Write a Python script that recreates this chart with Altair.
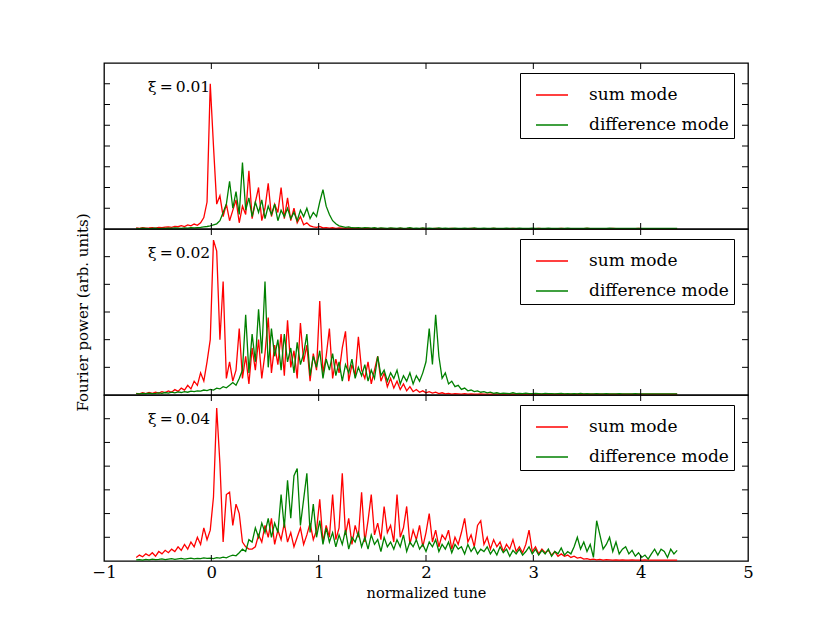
import altair as alt
import pandas as pd

# ---------------- data ----------------
TUNE_START = -0.70   # first sampled normalized tune
TUNE_STEP = 0.03     # sampling step of the spectra

MODES = ["sum mode", "difference mode"]
COLORS = ["#ff0000", "#008000"]
XI_LABELS = ["ξ\u2009=\u20090.01", "ξ\u2009=\u20090.02", "ξ\u2009=\u20090.04"]
Y_MAX = [80, 60, 70]
Y_TICKS = [[10, 20, 30, 40, 50, 60, 70], [10, 20, 30, 40, 50], [10, 20, 30, 40, 50, 60]]
X_TICKS = [0, 1, 2, 3, 4]
X_LABEL_VALUES = [-1, 0, 1, 2, 3, 4, 5]

P1_SUM = [0.5, 0.3, 0.6, 0.4, 0.5, 0.7, 0.4, 0.8, 0.6, 0.9,
          1.0, 0.8, 1.3, 1.1, 1.6, 1.2, 2.0, 1.5, 2.4, 1.8,
          3.0, 5.5, 13, 70, 40, 12, 16, 6, 12, 4,
          9, 14, 3, 11, 7, 28, 5, 13, 20, 4,
          10, 22, 6, 12, 8, 20, 5, 15, 4, 10,
          3, 6, 2, 3, 1.5, 1.0, 0.8, 1.2, 0.5, 0.7,
          0.4, 0.6, 0.3, 0.5, 0.4, 0.3, 0.5, 0.2, 0.4, 0.3,
          0.3, 0.2, 0.4, 0.2, 0.3, 0.2, 0.3, 0.2, 0.2, 0.3,
          0.2, 0.2, 0.3, 0.2, 0.2, 0.3, 0.2, 0.2, 0.2, 0.3,
          0.2, 0.2, 0.2, 0.3, 0.2, 0.2, 0.2, 0.2, 0.3, 0.2,
          0.2, 0.2, 0.2, 0.2, 0.3, 0.2, 0.2, 0.2, 0.2, 0.2,
          0.2, 0.3, 0.2, 0.2, 0.2, 0.2, 0.2, 0.3, 0.2, 0.2,
          0.2, 0.2, 0.2, 0.2, 0.2, 0.3, 0.2, 0.2, 0.2, 0.2,
          0.2, 0.2, 0.3, 0.2, 0.2, 0.2, 0.2, 0.2, 0.2, 0.2,
          0.3, 0.2, 0.2, 0.2, 0.2, 0.2, 0.2, 0.2, 0.3, 0.2,
          0.2, 0.2, 0.2, 0.2, 0.2, 0.2, 0.3, 0.2, 0.2, 0.2,
          0.2, 0.2, 0.2, 0.2, 0.2, 0.2, 0.2, 0.2, 0.2]

P1_DIFF = [0.3, 0.2, 0.4, 0.3, 0.2, 0.3, 0.4, 0.2, 0.3, 0.3,
           0.4, 0.3, 0.5, 0.4, 0.3, 0.5, 0.4, 0.6, 0.5, 0.7,
           0.8, 1.0, 1.2, 1.5, 2, 2.5, 4, 8, 12, 23,
           10, 18, 7, 32, 9, 15, 6, 13, 8, 14,
           5, 11, 7, 12, 4, 9, 6, 10, 5, 8,
           4, 9, 6, 10, 5, 8, 6, 13, 19, 11,
           7, 4, 2.5, 1.5, 1.2, 0.8, 1.0, 0.6, 0.5, 0.7,
           0.4, 0.6, 0.5, 0.4, 0.6, 0.3, 0.5, 0.4, 0.3, 0.5,
           0.4, 0.3, 0.5, 0.3, 0.4, 0.6, 0.3, 0.4, 0.3, 0.5,
           0.3, 0.4, 0.3, 0.3, 0.5, 0.3, 0.4, 0.3, 0.3, 0.4,
           0.3, 0.3, 0.4, 0.3, 0.3, 0.5, 0.3, 0.3, 0.4, 0.3,
           0.3, 0.4, 0.3, 0.3, 0.3, 0.4, 0.3, 0.3, 0.3, 0.4,
           0.3, 0.3, 0.3, 0.4, 0.3, 0.3, 0.3, 0.3, 0.4, 0.3,
           0.3, 0.3, 0.3, 0.3, 0.4, 0.3, 0.3, 0.3, 0.3, 0.3,
           0.4, 0.3, 0.3, 0.3, 0.3, 0.3, 0.3, 0.4, 0.3, 0.3,
           0.3, 0.3, 0.3, 0.3, 0.3, 0.3, 0.3, 0.3, 0.3, 0.3,
           0.3, 0.3, 0.3, 0.3, 0.3, 0.3, 0.3, 0.3, 0.3]

P2_SUM = [0.6, 0.4, 0.8, 0.5, 0.9, 0.6, 1.0, 0.7, 1.2, 0.9,
          1.5, 1.0, 2.0, 1.3, 2.5, 1.8, 3.5, 2.2, 5, 3.5,
          8, 5, 12, 20, 56, 52, 20, 41, 6, 12,
          5, 9, 24, 6, 14, 4, 17, 9, 20, 6,
          15, 28, 8, 18, 11, 22, 7, 27, 10, 16,
          6, 26, 12, 18, 5, 15, 9, 34, 8, 14,
          24, 6, 13, 8, 17, 23, 5, 11, 7, 21,
          9, 6, 12, 4, 9, 14, 5, 8, 3, 6,
          2.5, 5, 2, 4, 1.5, 3, 1.2, 2, 1, 1.5,
          0.8, 1.2, 0.7, 1.0, 0.5, 0.8, 0.4, 0.6, 0.3, 0.5,
          0.4, 0.3, 0.5, 0.3, 0.4, 0.3, 0.3, 0.4, 0.3, 0.3,
          0.3, 0.4, 0.3, 0.3, 0.3, 0.3, 0.4, 0.3, 0.3, 0.3,
          0.3, 0.3, 0.3, 0.3, 0.3, 0.3, 0.3, 0.3, 0.3, 0.3,
          0.3, 0.3, 0.3, 0.3, 0.3, 0.3, 0.3, 0.3, 0.3, 0.3,
          0.3, 0.3, 0.3, 0.3, 0.3, 0.3, 0.3, 0.3, 0.3, 0.3,
          0.3, 0.3, 0.3, 0.3, 0.3, 0.3, 0.3, 0.3, 0.3, 0.3,
          0.3, 0.3, 0.3, 0.3, 0.3, 0.3, 0.3, 0.3, 0.3]

P2_DIFF = [0.5, 0.4, 0.6, 0.5, 0.7, 0.5, 0.6, 0.8, 0.6, 0.9,
           0.7, 1.0, 0.8, 1.1, 0.9, 1.2, 1.0, 1.4, 1.2, 1.5,
           1.4, 1.8, 1.6, 2.0, 1.8, 2.5, 2.2, 3.0, 2.6, 3.5,
           4.5, 3.5, 6, 9, 29, 8, 22, 12, 31, 15,
           41, 10, 24, 14, 20, 9, 22, 12, 17, 8,
           19, 11, 15, 22, 7, 14, 10, 16, 6, 13,
           9, 15, 7, 12, 5, 11, 8, 13, 6, 10,
           7, 11, 5, 9, 6, 14, 7, 9, 5, 8,
           6, 9, 4, 7, 5, 8, 4, 7, 5, 8,
           12, 24, 11, 29, 14, 6, 8, 4, 5, 3,
           3.5, 2, 2.5, 1.5, 1.8, 1.2, 1.5, 1.0, 1.2, 0.8,
           1.0, 0.6, 0.8, 0.5, 0.7, 0.6, 0.5, 0.8, 0.5, 0.6,
           0.5, 0.7, 0.5, 0.5, 0.6, 0.5, 0.4, 0.6, 0.5, 0.5,
           0.4, 0.5, 0.6, 0.4, 0.5, 0.4, 0.5, 0.4, 0.6, 0.4,
           0.5, 0.4, 0.4, 0.5, 0.4, 0.4, 0.5, 0.4, 0.4, 0.4,
           0.5, 0.4, 0.4, 0.4, 0.4, 0.5, 0.4, 0.4, 0.4, 0.4,
           0.4, 0.4, 0.4, 0.4, 0.4, 0.4, 0.4, 0.4, 0.4]

P3_SUM = [1.5, 2.5, 1.8, 3.0, 2.2, 3.5, 2.0, 4.0, 3.0, 4.5,
          3.5, 5, 4, 6, 4.5, 7, 5, 8, 6, 10,
          7, 14, 9, 13, 27, 64.5, 41, 8, 28, 29,
          15, 24, 20, 8, 6, 5, 5, 6, 11, 8,
          15, 10, 18, 7, 13, 9, 16, 8, 12, 6,
          10, 14, 7, 11, 16, 9, 13, 26, 8, 15,
          10, 28, 9, 14, 37, 11, 18, 7, 15, 10,
          29, 8, 17, 28, 11, 16, 9, 23, 12, 15,
          8, 28, 10, 14, 23, 7, 13, 9, 15, 6,
          12, 20, 8, 13, 6, 11, 9, 13, 5, 10,
          7, 12, 18, 8, 11, 6, 15, 17, 7, 10,
          5, 9, 6, 8, 4, 7, 5, 9, 4, 6,
          3.5, 7, 13, 4, 6, 3, 5, 3.5, 4.5, 2.5,
          4, 2, 3, 2, 2.5, 1.5, 2, 1.2, 1.5, 0.8,
          1.0, 0.6, 0.8, 0.5, 0.7, 0.4, 0.6, 0.5, 0.4, 0.5,
          0.4, 0.5, 0.4, 0.4, 0.5, 0.4, 0.4, 0.4, 0.5, 0.4,
          0.4, 0.4, 0.4, 0.4, 0.4, 0.4, 0.4, 0.4, 0.4]

P3_DIFF = [0.5, 0.6, 0.4, 0.7, 0.5, 0.8, 0.6, 0.7, 0.9, 0.6,
           0.8, 1.0, 0.7, 0.9, 1.1, 0.8, 1.0, 1.2, 0.9, 1.1,
           1.0, 1.3, 1.1, 1.2, 1.0, 1.4, 1.2, 1.6, 1.3, 2.0,
           2.5, 2.2, 3.5, 5, 4, 9, 8, 14, 10, 16,
           12, 18, 10, 16, 12, 28, 14, 34, 18, 36,
           39, 15, 26, 37, 12, 24, 10, 17, 7, 14,
           8, 12, 6, 11, 7, 13, 5, 10, 8, 12,
           6, 10, 5, 11, 7, 9, 4, 10, 6, 8,
           5, 9, 6, 11, 4, 8, 6, 9, 5, 7,
           4, 8, 6, 9, 4, 7, 5, 8, 3.5, 7,
           5, 6, 3, 7, 4, 6, 3, 5, 4, 6,
           3, 5, 2.5, 6, 3.5, 5, 2, 4.5, 3, 5,
           2.5, 4, 6, 3, 5, 2.5, 4.5, 3, 5, 2,
           4, 3, 5.5, 2.5, 4, 3, 6, 10, 5, 8,
           4, 7, 1.5, 17, 11, 5, 7, 10, 4, 8,
           3, 5, 6, 3, 4.5, 2, 3.5, 1.5, 2.5, 0.8,
           3, 5, 2.5, 5, 4, 1.5, 5, 3, 4.5]

# ---------------- chart ----------------
SERIF = "DejaVu Serif"
W, H = 644, 166
TICK_LEN = 6


def series_df(values, mode):
    return pd.DataFrame({
        "tune": [round(TUNE_START + TUNE_STEP * i, 4) for i in range(len(values))],
        "power": values,
        "mode": mode,
    })


def panel(sum_vals, diff_vals, ymax, yticks, label, bottom=False, ytitle=False):
    xscale = alt.Scale(domain=[-1, 5], nice=False, zero=False)
    if bottom:
        xaxis = alt.Axis(values=X_LABEL_VALUES, ticks=False, domain=False, grid=False,
                         labelFlush=False, format="d", title="normalized tune",
                         labelPadding=3, titlePadding=6)
    else:
        xaxis = None
    if ytitle:
        yaxis = alt.Axis(title="Fourier power (arb. units)", labels=False, ticks=False,
                         domain=False, grid=False, titlePadding=14, titleFontSize=15)
    else:
        yaxis = None
    X = alt.X("tune:Q", scale=xscale, axis=xaxis)
    Y = alt.Y("power:Q", scale=alt.Scale(domain=[0, ymax], nice=False, zero=True), axis=yaxis)
    color = alt.Color(
        "mode:N",
        scale=alt.Scale(domain=MODES, range=COLORS),
        legend=alt.Legend(title=None, orient="none", legendX=416, legendY=10,
                          symbolType="stroke", symbolSize=1024, symbolStrokeWidth=1.5,
                          symbolOffset=10, labelFont=SERIF, labelFontSize=17,
                          labelColor="black", labelOffset=20, rowPadding=5, padding=5,
                          labelLimit=400, labelExpr="datum.label + '  '",
                          strokeColor="black", fillColor="white"),
    )
    red = alt.Chart(series_df(sum_vals, MODES[0])).mark_line(strokeWidth=1.3).encode(
        x=X, y=Y, color=color)
    green = alt.Chart(series_df(diff_vals, MODES[1])).mark_line(strokeWidth=1.3).encode(
        x=X, y=Y, color=color)
    xt = pd.DataFrame({"tune": X_TICKS})
    yt = pd.DataFrame({"power": yticks})
    tick_top = alt.Chart(xt).mark_rule(color="black", strokeWidth=1).encode(
        x=X, y=alt.value(0), y2=alt.value(TICK_LEN))
    tick_bot = alt.Chart(xt).mark_rule(color="black", strokeWidth=1).encode(
        x=X, y=alt.value(H - TICK_LEN), y2=alt.value(H))
    tick_left = alt.Chart(yt).mark_rule(color="black", strokeWidth=1).encode(
        y=Y, x=alt.value(0), x2=alt.value(TICK_LEN))
    tick_right = alt.Chart(yt).mark_rule(color="black", strokeWidth=1).encode(
        y=Y, x=alt.value(W - TICK_LEN), x2=alt.value(W))
    txt = alt.Chart(pd.DataFrame({"label": [label]})).mark_text(
        align="left", baseline="middle", font=SERIF, fontSize=15.5, color="black"
    ).encode(x=alt.value(44), y=alt.value(24), text="label:N")
    return alt.layer(red, green, tick_top, tick_bot, tick_left, tick_right, txt).properties(
        width=W, height=H)


p1 = panel(P1_SUM, P1_DIFF, Y_MAX[0], Y_TICKS[0], XI_LABELS[0])
p2 = panel(P2_SUM, P2_DIFF, Y_MAX[1], Y_TICKS[1], XI_LABELS[1], ytitle=True)
p3 = panel(P3_SUM, P3_DIFF, Y_MAX[2], Y_TICKS[2], XI_LABELS[2], bottom=True)

chart = alt.vconcat(p1, p2, p3, spacing=0, bounds="flush").resolve_legend(
    color="independent"
).configure_view(
    stroke="black", strokeWidth=1.3
).configure_concat(spacing=0).configure_axis(
    labelFont=SERIF, titleFont=SERIF, labelFontSize=16.5, titleFontSize=14.5,
    titleFontWeight="normal", labelColor="black", titleColor="black"
).properties(padding={"left": 66, "top": 53, "right": 10, "bottom": 10})

chart.save("out.html", embed_options={"renderer": "svg", "actions": False})
